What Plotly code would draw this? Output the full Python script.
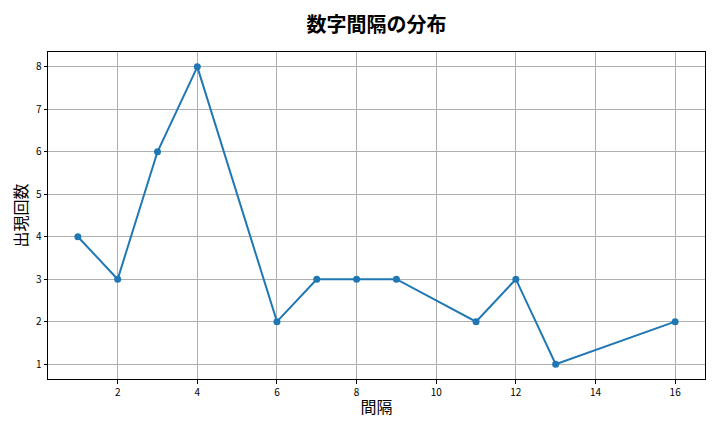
import plotly.graph_objects as go

gaps = [1, 2, 3, 4, 6, 7, 8, 9, 11, 12, 13, 16]
counts = [4, 3, 6, 8, 2, 3, 3, 3, 2, 3, 1, 2]

title_text = "数字間隔の分布"
x_label = "間隔"
y_label = "出現回数"

font_family = "Noto Sans CJK JP"
color = "#1f77b4"

fig = go.Figure()
fig.add_trace(go.Scatter(
    x=gaps, y=counts, mode="lines+markers",
    line=dict(color=color, width=2),
    marker=dict(color=color, size=7),
))

axis_common = dict(
    showgrid=True, gridcolor="#b0b0b0", gridwidth=1,
    showline=True, linecolor="black", linewidth=1, mirror=True,
    ticks="outside", ticklen=3.5, tickcolor="black",
    tickfont=dict(family=font_family, size=10, color="black"),
    zeroline=False,
)

fig.update_layout(
    width=712, height=424,
    margin=dict(l=40, r=15, t=44, b=53),
    paper_bgcolor="white", plot_bgcolor="white",
    showlegend=False,
    title=dict(text="<b>" + title_text + "</b>", xref="paper", x=0.5, xanchor="center",
               y=0.96, yanchor="middle",
               font=dict(family=font_family, size=20, color="black")),
    xaxis=dict(range=[0.25, 16.75], tickmode="array", tickvals=[2, 4, 6, 8, 10, 12, 14, 16],
               title=dict(text=x_label, font=dict(family=font_family, size=16, color="black"), standoff=4),
               **axis_common),
    yaxis=dict(range=[0.65, 8.35], tickmode="array", tickvals=[1, 2, 3, 4, 5, 6, 7, 8],
               title=dict(text=y_label, font=dict(family=font_family, size=16, color="black"), standoff=6),
               **axis_common),
)

fig.write_html("out.html")
